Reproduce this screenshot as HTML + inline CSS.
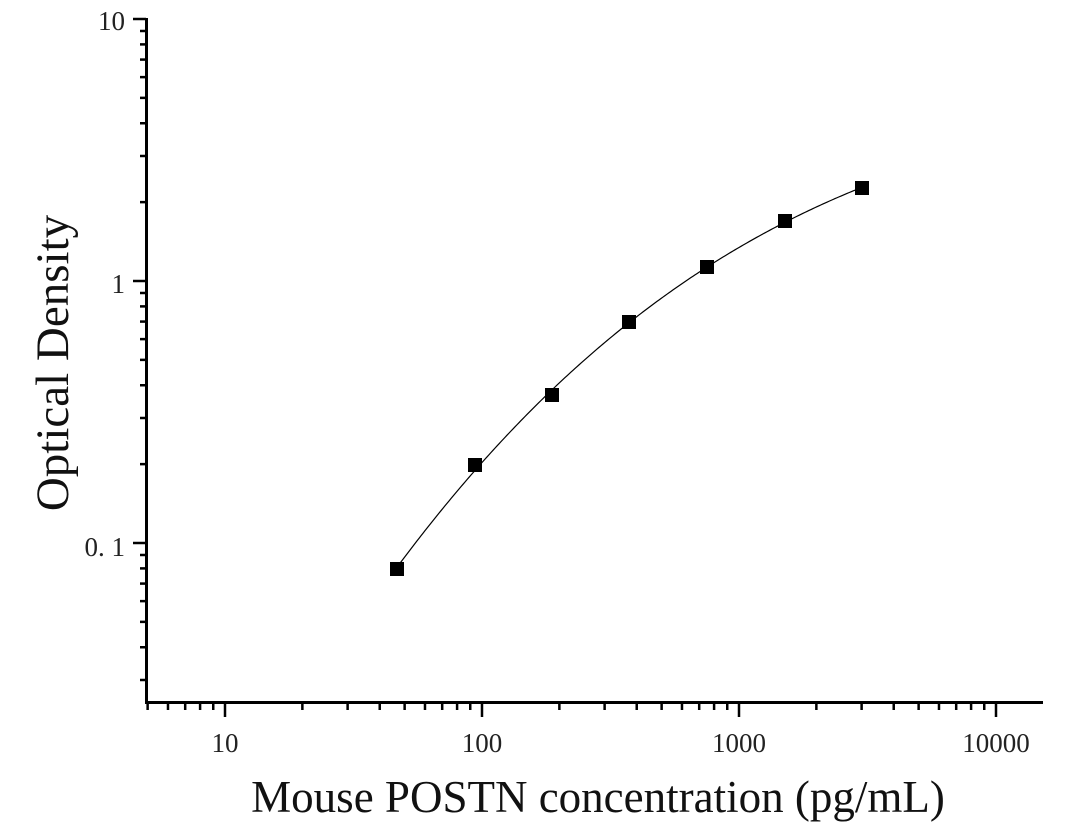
<!DOCTYPE html>
<html><head><meta charset="utf-8"><style>
html,body{margin:0;padding:0;background:#fff;}
svg{display:block;font-family:"Liberation Serif",serif;}
</style></head><body>
<svg id="s" width="1066" height="822" viewBox="0 0 1066 822">
<g stroke="#000" stroke-width="3" fill="none">
<line x1="146.5" y1="18" x2="146.5" y2="703.5"/>
<line x1="145" y1="702.5" x2="1043" y2="702.5"/>
</g>
<g id="ticks" stroke="#000" stroke-width="2.5"></g>
<g font-size="27" fill="#222">
<text x="125" y="30" text-anchor="end">10</text>
<text x="125" y="293" text-anchor="end">1</text>
<text x="125" y="556" text-anchor="end">0. 1</text>
<text x="225" y="752" text-anchor="middle">10</text>
<text x="482" y="752" text-anchor="middle">100</text>
<text x="739" y="752" text-anchor="middle">1000</text>
<text x="996" y="752" text-anchor="middle">10000</text>
</g>
<text x="598" y="812" font-size="45" text-anchor="middle" fill="#111">Mouse POSTN concentration (pg/mL)</text>
<text transform="translate(68,363) rotate(-90)" font-size="47" text-anchor="middle" fill="#111">Optical Density</text>
<path id="curve" fill="none" stroke="#000" stroke-width="1.2"/>
<g id="pts" fill="#000"></g>
</svg>
<script>
var ns="http://www.w3.org/2000/svg";
function X(v){return 225+257*(Math.log10(v)-1);}
function Y(v){return 19+262*(1-Math.log10(v));}
var t=document.getElementById('ticks');
function ln(a,b,c,d){var l=document.createElementNS(ns,'line');l.setAttribute('x1',a);l.setAttribute('y1',b);l.setAttribute('x2',c);l.setAttribute('y2',d);t.appendChild(l);}
for(var e=-2;e<=1;e++)for(var m=1;m<10;m++){var v=m*Math.pow(10,e);if(v<0.029||v>10.01)continue;var y=Y(v);ln(m==1?133:140,y,146,y);}
for(var e=0;e<=4;e++)for(var m=1;m<10;m++){var v=m*Math.pow(10,e);if(v<4.9||v>15100)continue;var x=X(v);ln(x,703,x,m==1?717:710);}
var P=[[397,569],[475,465],[552,395],[629,322],[707,267],[785,221],[862,188]];
var g=document.getElementById('pts');
P.forEach(function(p){var r=document.createElementNS(ns,'rect');r.setAttribute('x',p[0]-7);r.setAttribute('y',p[1]-7);r.setAttribute('width',14);r.setAttribute('height',14);g.appendChild(r);});
// cubic least squares fit y(x)
var n=4,A=[],b=[];for(var i=0;i<n;i++){A.push([0,0,0,0]);b.push(0);}
P.forEach(function(p){var u=(p[0]-630)/240;for(var i=0;i<n;i++){b[i]+=Math.pow(u,i)*p[1];for(var j=0;j<n;j++)A[i][j]+=Math.pow(u,i+j);}});
for(var i=0;i<n;i++){for(var k=i+1;k<n;k++){var f=A[k][i]/A[i][i];for(var j=i;j<n;j++)A[k][j]-=f*A[i][j];b[k]-=f*b[i];}}
var c=[0,0,0,0];for(var i=n-1;i>=0;i--){var s=b[i];for(var j=i+1;j<n;j++)s-=A[i][j]*c[j];c[i]=s/A[i][i];}
var d="";for(var x=397;x<=862;x+=2){var u=(x-630)/240;var y=c[0]+c[1]*u+c[2]*u*u+c[3]*u*u*u;d+=(d?" L":"M")+x+","+y.toFixed(2);}
document.getElementById('curve').setAttribute('d',d);
</script>
</body></html>
